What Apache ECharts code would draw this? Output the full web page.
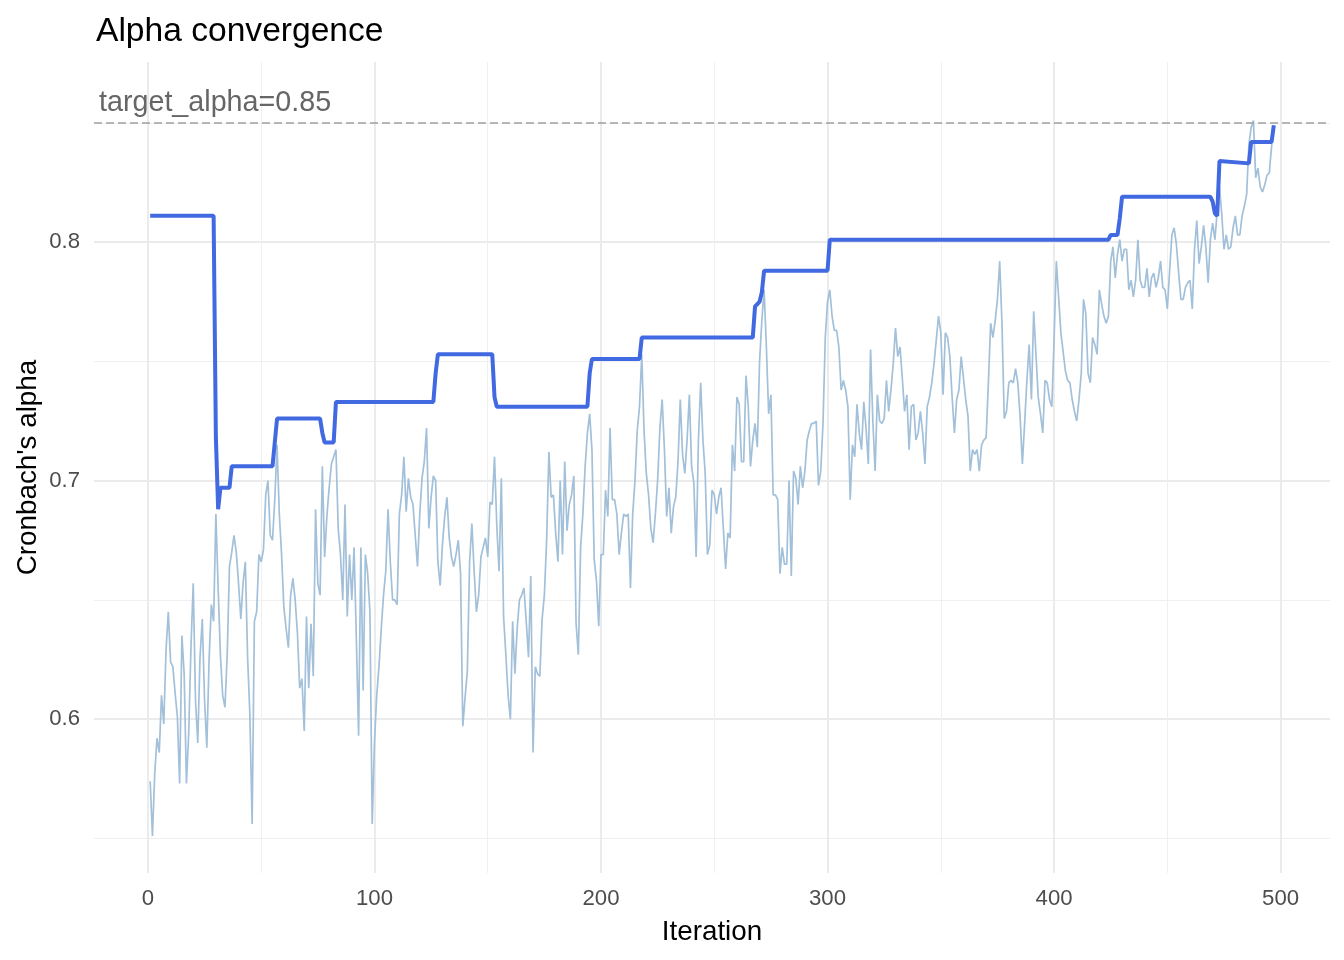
<!DOCTYPE html>
<html>
<head>
<meta charset="utf-8">
<script src="https://cdn.jsdelivr.net/npm/echarts@6/dist/echarts.min.js"></script>
<style>
html,body{margin:0;padding:0;background:#fff;}
#chart{width:1344px;height:960px;}
</style>
</head>
<body>
<div id="chart"></div>
<script>
// Trial alpha per iteration (iterations 1..497)
const alphaTrial = [
0.574,0.551,0.577,0.592,0.586,0.610,0.598,0.629,0.645,0.624,
0.622,0.611,0.601,0.573,0.635,0.619,0.573,0.594,0.630,0.657,
0.608,0.590,0.626,0.642,0.608,0.588,0.625,0.648,0.641,0.686,
0.655,0.627,0.610,0.605,0.627,0.664,0.670,0.677,0.670,0.657,
0.642,0.657,0.666,0.626,0.602,0.556,0.641,0.645,0.669,0.666,
0.671,0.694,0.700,0.677,0.675,0.692,0.715,0.686,0.669,0.647,
0.638,0.630,0.652,0.659,0.650,0.636,0.613,0.617,0.595,0.643,
0.613,0.640,0.618,0.688,0.657,0.652,0.706,0.668,0.685,0.697,
0.707,0.710,0.713,0.680,0.669,0.650,0.690,0.643,0.669,0.650,
0.672,0.634,0.593,0.672,0.612,0.669,0.661,0.645,0.556,0.590,
0.610,0.622,0.638,0.652,0.662,0.688,0.666,0.650,0.650,0.648,
0.686,0.694,0.710,0.687,0.701,0.693,0.690,0.677,0.664,0.686,
0.701,0.708,0.722,0.680,0.693,0.702,0.700,0.666,0.656,0.673,
0.685,0.693,0.676,0.668,0.664,0.669,0.675,0.661,0.597,0.609,
0.620,0.666,0.682,0.662,0.645,0.652,0.668,0.672,0.676,0.668,
0.691,0.690,0.710,0.681,0.662,0.701,0.643,0.627,0.610,0.600,
0.641,0.619,0.638,0.650,0.652,0.655,0.641,0.626,0.660,0.586,
0.622,0.619,0.618,0.642,0.652,0.675,0.712,0.693,0.694,0.678,
0.666,0.700,0.669,0.708,0.679,0.690,0.694,0.702,0.640,0.627,
0.672,0.686,0.706,0.720,0.728,0.713,0.667,0.658,0.639,0.669,
0.669,0.696,0.685,0.722,0.692,0.692,0.686,0.669,0.678,0.686,
0.685,0.686,0.655,0.686,0.700,0.721,0.731,0.753,0.721,0.703,
0.694,0.680,0.674,0.686,0.700,0.722,0.734,0.713,0.685,0.697,
0.678,0.689,0.693,0.708,0.734,0.711,0.703,0.717,0.736,0.706,
0.699,0.668,0.717,0.741,0.717,0.703,0.669,0.673,0.696,0.694,
0.686,0.693,0.697,0.680,0.663,0.678,0.676,0.715,0.704,0.735,
0.732,0.708,0.708,0.744,0.731,0.706,0.717,0.724,0.714,0.750,
0.767,0.780,0.756,0.728,0.736,0.694,0.694,0.692,0.661,0.672,
0.665,0.665,0.700,0.660,0.704,0.701,0.690,0.706,0.697,0.704,
0.717,0.721,0.724,0.724,0.725,0.698,0.704,0.724,0.760,0.775,
0.780,0.769,0.763,0.763,0.756,0.738,0.742,0.738,0.731,0.692,
0.715,0.710,0.732,0.720,0.713,0.733,0.722,0.707,0.755,0.725,
0.704,0.736,0.725,0.724,0.726,0.742,0.729,0.738,0.749,0.764,
0.752,0.756,0.743,0.729,0.736,0.713,0.731,0.732,0.717,0.720,
0.729,0.720,0.707,0.731,0.735,0.741,0.749,0.759,0.769,0.762,
0.736,0.762,0.760,0.752,0.735,0.720,0.734,0.738,0.752,0.743,
0.734,0.727,0.704,0.713,0.711,0.713,0.704,0.715,0.717,0.718,
0.741,0.766,0.760,0.767,0.776,0.792,0.766,0.726,0.729,0.741,
0.742,0.741,0.747,0.741,0.727,0.707,0.724,0.742,0.757,0.734,
0.771,0.753,0.735,0.728,0.720,0.742,0.741,0.734,0.731,0.759,
0.792,0.777,0.762,0.754,0.746,0.742,0.741,0.734,0.729,0.725,
0.734,0.745,0.776,0.770,0.745,0.741,0.760,0.757,0.753,0.780,
0.774,0.769,0.766,0.769,0.792,0.798,0.785,0.795,0.801,0.792,
0.797,0.797,0.780,0.784,0.777,0.784,0.801,0.784,0.781,0.781,
0.789,0.777,0.785,0.787,0.781,0.785,0.792,0.781,0.780,0.772,
0.788,0.803,0.806,0.799,0.787,0.776,0.776,0.781,0.783,0.784,
0.772,0.797,0.809,0.791,0.798,0.807,0.798,0.783,0.801,0.808,
0.801,0.813,0.823,0.812,0.797,0.803,0.797,0.798,0.806,0.811,
0.803,0.803,0.811,0.815,0.820,0.841,0.848,0.851,0.827,0.831,
0.823,0.821,0.824,0.828,0.829,0.840,0.848
];

// Accepted (blue) alpha: points where the line changes
const bestIter = [1,29,30,31,32,36,37,55,56,57,76,77,78,82,83,126,127,128,152,153,
  154,194,195,196,217,218,267,268,269,270,271,272,300,301,424,425,428,429,430,469,
  470,471,472,473,486,487,496,497];
const bestAlpha = [0.811,0.811,0.718,0.688,0.697,0.697,0.706,0.706,0.716,0.726,
  0.726,0.720,0.716,0.716,0.733,0.733,0.745,0.753,0.753,0.735,
  0.731,0.731,0.745,0.751,0.751,0.760,0.760,0.773,0.774,0.775,
  0.779,0.788,0.788,0.801,0.801,0.803,0.803,0.810,0.819,0.819,
  0.817,0.812,0.811,0.834,0.833,0.842,0.842,0.849];

const targetAlpha = 0.85;
const xMajorTicks = [0,100,200,300,400,500];
const xMinorTicks = [50,150,250,350,450];
const yMajorTicks = [0.6,0.7,0.8];
const yMinorTicks = [0.55,0.65,0.75,0.85];

const trialData = alphaTrial.map((v,i)=>[i+1,v]);
const bestData = bestIter.map((it,i)=>[it,bestAlpha[i]]);

const FONT = 'Liberation Sans, Arial, Helvetica, sans-serif';
const X_MIN = -23.8, X_MAX = 521.8, Y_MIN = 0.5355, Y_MAX = 0.8755;

const chart = echarts.init(document.getElementById('chart'), null, {renderer:'canvas'});
chart.setOption({
  animation:false,
  backgroundColor:'#ffffff',
  textStyle:{fontFamily:FONT},
  title:{
    text:'Alpha convergence',
    left:91, top:10,
    textStyle:{fontFamily:FONT,fontSize:33.6,fontWeight:'normal',color:'#000000'}
  },
  grid:{left:94,right:14,top:62,bottom:87,containLabel:false},
  xAxis:[{
    type:'value', min:X_MIN, max:X_MAX,
    name:'Iteration', nameLocation:'middle', nameGap:45, nameMoveOverlap:false,
    nameTextStyle:{fontFamily:FONT,fontSize:27.8,color:'#000000'},
    axisLine:{show:false},
    axisTick:{show:false, customValues:xMajorTicks},
    axisLabel:{customValues:xMajorTicks, fontFamily:FONT, fontSize:22.2, color:'#4D4D4D', margin:15},
    splitLine:{show:true, lineStyle:{color:'#EBEBEB', width:2}}
  },{
    type:'value', min:X_MIN, max:X_MAX, position:'bottom',
    axisLine:{show:false},
    axisTick:{show:false, customValues:xMinorTicks},
    axisLabel:{show:false, customValues:xMinorTicks},
    splitLine:{show:true, lineStyle:{color:'#EFEFEF', width:1.1}}
  }],
  yAxis:[{
    type:'value', min:Y_MIN, max:Y_MAX,
    name:"Cronbach's alpha", nameLocation:'middle', nameRotate:90, nameGap:52, nameMoveOverlap:false,
    nameTextStyle:{fontFamily:FONT,fontSize:27.8,color:'#000000'},
    axisLine:{show:false},
    axisTick:{show:false, customValues:yMajorTicks},
    axisLabel:{customValues:yMajorTicks, fontFamily:FONT, fontSize:22.2, color:'#4D4D4D', margin:14,
      formatter:v=>v.toFixed(1)},
    splitLine:{show:true, lineStyle:{color:'#EBEBEB', width:2}}
  },{
    type:'value', min:Y_MIN, max:Y_MAX, position:'left',
    axisLine:{show:false},
    axisTick:{show:false, customValues:yMinorTicks},
    axisLabel:{show:false, customValues:yMinorTicks},
    splitLine:{show:true, lineStyle:{color:'#EFEFEF', width:1.1}}
  }],
  series:[{
    type:'line', name:'trial', data:trialData, showSymbol:false, symbol:'none', silent:true,
    lineStyle:{color:'#A2C0D9', width:1.7}, z:2
  },{
    type:'line', name:'best', data:bestData, showSymbol:false, symbol:'none', silent:true,
    lineStyle:{color:'#4169E1', width:4}, z:3,
    markLine:{
      silent:true, symbol:['none','none'],
      lineStyle:{color:'#A0A0A0', width:1.5, type:[8,4]},
      label:{show:true, position:'insideStartTop', formatter:'target_alpha=0.85',
        fontFamily:FONT, fontSize:28.7, color:'#666666', distance:[5,5]},
      data:[{yAxis:targetAlpha}]
    }
  }]
});
</script>
</body>
</html>
